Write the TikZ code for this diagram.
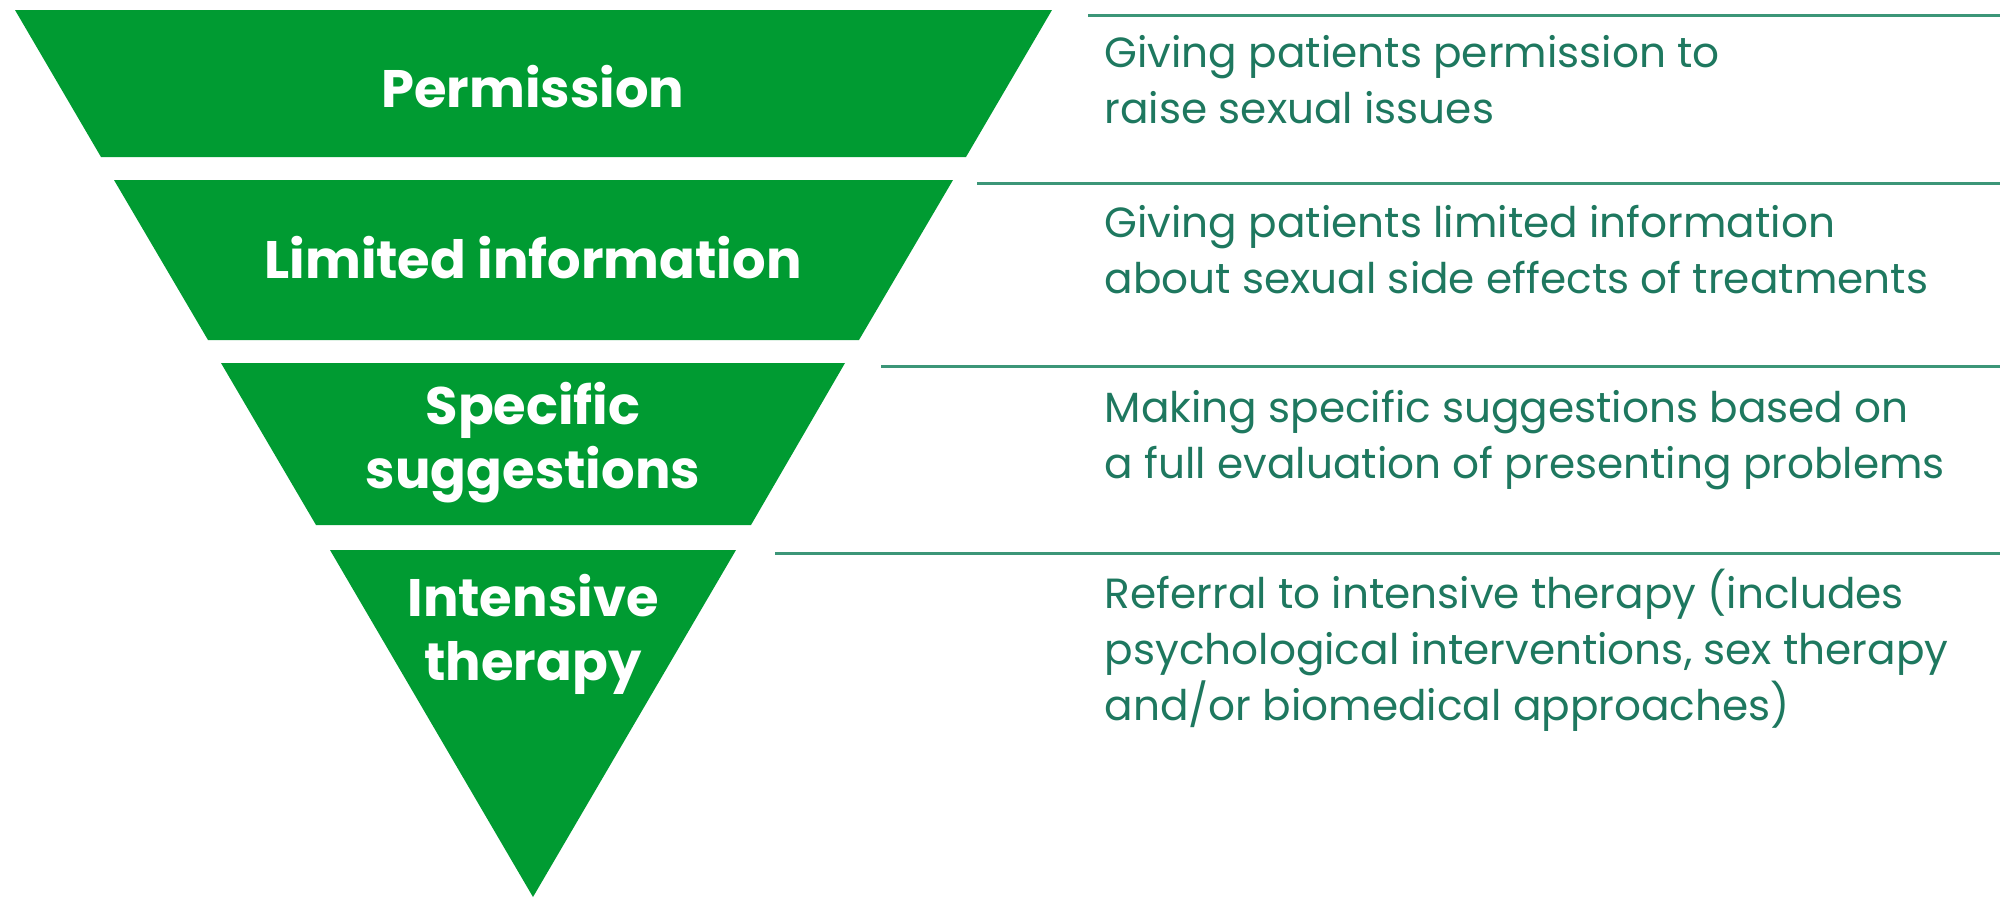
\documentclass[tikz,border=0pt]{standalone}
\usepackage{fontspec}
\setmainfont{Poppins}
\usetikzlibrary{calc}
\definecolor{pyrgreen}{RGB}{0,155,50}
\definecolor{noteteal}{RGB}{30,120,95}
\definecolor{ruleteal}{RGB}{60,150,120}

\begin{document}
\begin{tikzpicture}[x=0.01cm,y=-0.01cm,
    band/.style={fill=pyrgreen},
    lvl/.style={text=white,font=\fontsize{15}{18}\selectfont\bfseries,align=center,anchor=base,inner sep=0pt},
    note/.style={text=noteteal,font=\fontsize{12}{15.9}\selectfont,align=left,anchor=base west,inner sep=0pt},
    sep/.style={draw=ruleteal,line width=0.85pt}]
            \useasboundingbox (0,0) rectangle (2008,899);

            % the four layers of the funnel
            \fill[band] (15,10) -- (1052,10) -- (966,157) -- (101,157) -- cycle;
            \fill[band] (114,180) -- (953,180) -- (859,340) -- (208,340) -- cycle;
            \fill[band] (221,363) -- (845,363) -- (751,525) -- (316,525) -- cycle;
            \fill[band] (330,550) -- (736,550) -- (533,897) -- cycle;

            % labels sit on the baseline of their last line
            \node[lvl] (perm) at (533,107) {Permission};
            \node[lvl] (limi) at (533,278) {Limited information};
            \node[lvl] (spec) at (533,488) {Specific\\suggestions};
            \node[lvl] (inte) at (533,680) {Intensive\\therapy};

            % rules on the right
            \coordinate (r1a) at (1088,15);  \coordinate (r1b) at (2000,15);
            \coordinate (r2a) at (977,183);  \coordinate (r2b) at (2000,183);
            \coordinate (r3a) at (881,366);  \coordinate (r3b) at (2000,366);
            \coordinate (r4a) at (775,553);  \coordinate (r4b) at (2000,553);
            \draw[sep] (r1a) -- (r1b);
            \draw[sep] (r2a) -- (r2b);
            \draw[sep] (r3a) -- (r3b);
            \draw[sep] (r4a) -- (r4b);

            \node[note] (n1) at (1104,123) {Giving patients permission to\\raise sexual issues};
            \node[note] (n2) at (1104,293) {Giving patients limited information\\about sexual side effects of treatments};
            \node[note] (n3) at (1104,478) {Making specific suggestions based on\\a full evaluation of presenting problems};
            \node[note] (n4) at (1104,720) {Referral to intensive therapy (includes\\psychological interventions, sex therapy\\and/or biomedical approaches)};
        \end{tikzpicture}
\end{document}
